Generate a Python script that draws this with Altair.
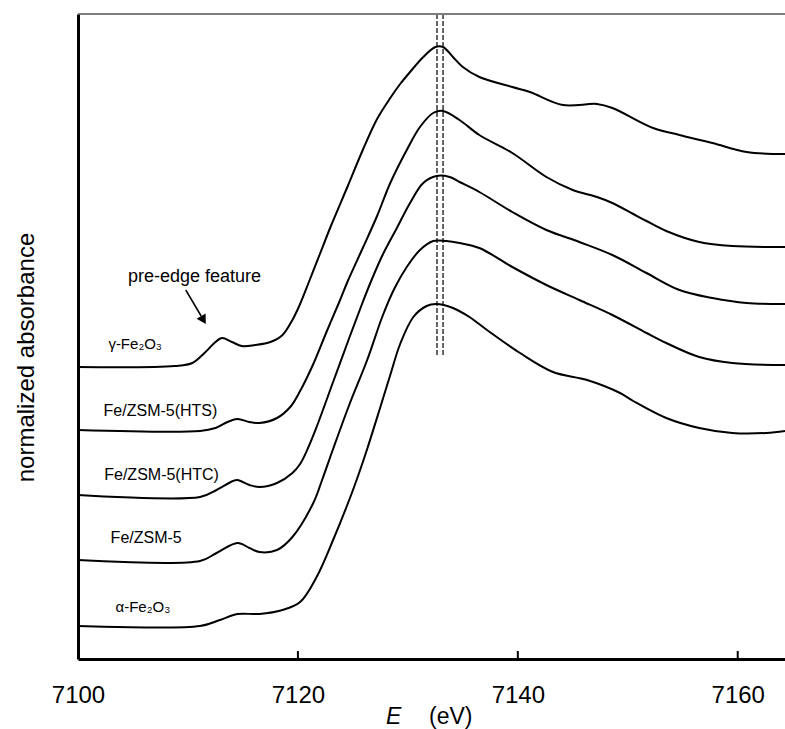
import altair as alt
import pandas as pd

# ---- data (E in eV, stacked normalized absorbance) ----
series_names = ["γ-Fe₂O₃", "Fe/ZSM-5(HTS)", "Fe/ZSM-5(HTC)", "Fe/ZSM-5", "α-Fe₂O₃"]

energy_gamma = [7100.0, 7108.8, 7110.4, 7111.5, 7112.5, 7113.1, 7114.0, 7114.9, 7116.1, 7117.5,
                7118.6, 7119.5, 7120.2, 7121.0, 7122.0, 7123.0, 7124.5, 7125.9, 7127.2, 7128.4,
                7129.3, 7130.2, 7131.4, 7132.5, 7133.2, 7134.1, 7135.0, 7136.5, 7139.5, 7141.1,
                7144.1, 7147.2, 7148.6, 7152.3, 7154.7, 7157.7, 7160.8, 7164.3]
absorb_gamma = [2.92, 2.93, 2.96, 3.06, 3.17, 3.21, 3.17, 3.13, 3.14, 3.17,
                3.24, 3.39, 3.55, 3.77, 4.05, 4.33, 4.72, 5.09, 5.40, 5.61,
                5.75, 5.87, 6.02, 6.12, 6.12, 6.02, 5.92, 5.82, 5.72, 5.67,
                5.54, 5.55, 5.51, 5.31, 5.24, 5.16, 5.07, 5.05]

energy_hts = [7100.0, 7111.1, 7112.5, 7113.6, 7114.5, 7115.6, 7116.5, 7118.1, 7119.3, 7120.2,
              7121.4, 7122.6, 7123.8, 7124.5, 7125.9, 7127.2, 7128.4, 7129.9, 7131.1, 7132.3,
              7133.2, 7134.7, 7136.5, 7139.5, 7142.6, 7145.0, 7147.2, 7148.6, 7150.5, 7151.7,
              7153.5, 7156.5, 7159.5, 7164.3]
absorb_hts = [2.29, 2.28, 2.31, 2.37, 2.40, 2.37, 2.36, 2.41, 2.52, 2.68,
              2.95, 3.27, 3.58, 3.77, 4.11, 4.43, 4.76, 5.09, 5.32, 5.46,
              5.48, 5.39, 5.24, 5.06, 4.82, 4.69, 4.62, 4.56, 4.45, 4.38,
              4.28, 4.17, 4.13, 4.12]

energy_htc = [7100.0, 7111.1, 7112.6, 7114.1, 7114.5, 7115.6, 7116.5, 7118.1, 7119.5, 7120.2,
              7121.0, 7121.7, 7123.2, 7124.7, 7125.9, 7126.7, 7127.7, 7129.0, 7130.2, 7131.4,
              7132.6, 7133.8, 7134.7, 7136.5, 7139.5, 7142.6, 7145.6, 7148.6, 7151.7, 7154.7,
              7157.7, 7160.8, 7164.3]
absorb_htc = [1.64, 1.62, 1.69, 1.78, 1.79, 1.74, 1.72, 1.76, 1.86, 1.95,
              2.13, 2.32, 2.77, 3.22, 3.57, 3.79, 4.04, 4.31, 4.56, 4.76,
              4.83, 4.82, 4.77, 4.67, 4.47, 4.29, 4.17, 4.04, 3.86, 3.69,
              3.61, 3.56, 3.55]

energy_zsm = [7100.0, 7111.1, 7112.6, 7114.5, 7115.6, 7116.5, 7118.1, 7119.5, 7121.4, 7122.2,
              7123.2, 7124.7, 7126.3, 7127.7, 7128.8, 7129.9, 7131.1, 7132.3, 7133.5, 7134.7,
              7136.5, 7139.5, 7142.6, 7145.6, 7148.6, 7151.7, 7153.5, 7156.5, 7159.5, 7164.3]
absorb_zsm = [0.99, 0.98, 1.06, 1.16, 1.11, 1.07, 1.09, 1.22, 1.56, 1.79,
              2.10, 2.55, 2.99, 3.43, 3.71, 3.92, 4.09, 4.18, 4.18, 4.16,
              4.11, 3.92, 3.74, 3.59, 3.44, 3.26, 3.16, 3.02, 2.96, 2.94]

energy_alpha = [7100.0, 7111.1, 7112.9, 7114.5, 7116.5, 7118.6, 7120.2, 7121.7, 7123.2, 7124.7,
                7125.5, 7126.3, 7127.5, 7128.4, 7129.3, 7130.5, 7131.7, 7132.6, 7134.1, 7135.6,
                7137.2, 7140.2, 7143.2, 7146.3, 7149.3, 7150.5, 7153.5, 7156.5, 7159.5, 7162.6,
                7164.3]
absorb_alpha = [0.33, 0.33, 0.39, 0.45, 0.45, 0.49, 0.57, 0.82, 1.19, 1.60,
                1.84, 2.10, 2.52, 2.84, 3.15, 3.42, 3.53, 3.55, 3.51, 3.42,
                3.29, 3.06, 2.87, 2.79, 2.66, 2.58, 2.41, 2.31, 2.26, 2.26,
                2.28]

# curve labels: text, centre energy, baseline absorbance, font size
label_texts = ["γ-Fe₂O₃", "Fe/ZSM-5(HTS)", "Fe/ZSM-5(HTC)", "Fe/ZSM-5", "α-Fe₂O₃", "pre-edge feature"]
label_energy = [7105.2, 7107.5, 7107.6, 7106.2, 7105.9, 7110.6]
label_absorb = [3.10, 2.43, 1.79, 1.16, 0.47, 3.77]
label_size = [15, 16, 16, 16, 15, 18]

# dashed guide lines and their span
dash_energy = [7132.65, 7133.2]
dash_low, dash_high = 3.04, 6.44

tick_values = [7100, 7120, 7140, 7160]
x_domain = [7100, 7164.3]
y_domain = [0, 6.45]

arrow_from = (7109.8, 3.69)
arrow_to = (7111.2, 3.43)
arrow_head = (7111.41, 3.39)

FONT = "Liberation Sans"

# ---- build tables ----
rows = []
for name, es, ab in zip(series_names,
                        [energy_gamma, energy_hts, energy_htc, energy_zsm, energy_alpha],
                        [absorb_gamma, absorb_hts, absorb_htc, absorb_zsm, absorb_alpha]):
    for i, (e, a) in enumerate(zip(es, ab)):
        rows.append({"sample": name, "E": e, "A": a, "i": i})
curves = pd.DataFrame(rows)

xs = alt.Scale(domain=x_domain, nice=False, zero=False)
ys = alt.Scale(domain=y_domain, nice=False, zero=False)

x_axis = alt.Axis(
    values=tick_values, format="d", ticks=False, grid=False, title=None,
    domainColor="black", domainWidth=3,
    labelFont=FONT, labelFontSize=24, labelColor="black",
    labelPadding=43, labelBaseline="alphabetic",
    labelFlush=False, labelOverlap=False)
y_axis = alt.Axis(
    labels=False, ticks=False, grid=False,
    domainColor="black", domainWidth=3,
    title="normalized absorbance", titleFont=FONT, titleFontSize=24,
    titleFontWeight="normal", titleColor="black", titleAngle=270,
    titleX=-45, titleY=343, titleAlign="center", titleBaseline="alphabetic")


def X(field):
    return alt.X(field, scale=xs, axis=x_axis)


def Y(field):
    return alt.Y(field, scale=ys, axis=y_axis)


lines = alt.Chart(curves).mark_line(
    color="black", strokeWidth=2, interpolate="catmull-rom", clip=True
).encode(x=X("E:Q"), y=Y("A:Q"), detail="sample:N", order="i:Q")

frame_df = pd.DataFrame({"E0": [x_domain[0]], "E1": [x_domain[1]], "A": [y_domain[1]]})
frame = alt.Chart(frame_df).mark_rule(color="#555555", strokeWidth=1.5).encode(
    x=X("E0:Q"), x2="E1:Q", y=Y("A:Q"))

dash_df = pd.DataFrame({"E": dash_energy, "A0": [dash_low] * 2, "A1": [dash_high] * 2})
dashes = alt.Chart(dash_df).mark_rule(color="black", strokeWidth=1.2, strokeDash=[5, 2]).encode(
    x=X("E:Q"), y=Y("A0:Q"), y2="A1:Q")

tick_df = pd.DataFrame({"E": tick_values[1:], "A0": [0.0] * 3, "A1": [0.08] * 3})
ticks = alt.Chart(tick_df).mark_rule(color="black", strokeWidth=2).encode(
    x=X("E:Q"), y=Y("A0:Q"), y2="A1:Q")

lab_df = pd.DataFrame({"t": label_texts, "E": label_energy, "A": label_absorb, "fs": label_size})
labels = alt.Chart(lab_df).mark_text(
    font=FONT, color="black", align="center", baseline="alphabetic"
).encode(
    x=X("E:Q"), y=Y("A:Q"), text="t:N",
    size=alt.Size("fs:Q", scale=None, legend=None))

arrow_df = pd.DataFrame({"E0": [arrow_from[0]], "A0": [arrow_from[1]],
                         "E1": [arrow_to[0]], "A1": [arrow_to[1]]})
arrow_line = alt.Chart(arrow_df).mark_rule(color="black", strokeWidth=1.5).encode(
    x=X("E0:Q"), x2="E1:Q", y=Y("A0:Q"), y2="A1:Q")

head_df = pd.DataFrame({"E": [arrow_head[0]], "A": [arrow_head[1]]})
arrow_head_mark = alt.Chart(head_df).mark_point(
    shape="triangle-down", filled=True, size=110, angle=329, color="black", opacity=1
).encode(x=X("E:Q"), y=Y("A:Q"))

xt_df = pd.DataFrame({"E": [7128.7], "A": [-0.645], "t": ["E"]})
xtitle_e = alt.Chart(xt_df).mark_text(
    font=FONT, fontSize=23, fontStyle="italic", color="black", align="center", baseline="alphabetic"
).encode(x=X("E:Q"), y=Y("A:Q"), text="t:N")

xu_df = pd.DataFrame({"E": [7133.9], "A": [-0.645], "t": ["(eV)"]})
xtitle_u = alt.Chart(xu_df).mark_text(
    font=FONT, fontSize=23, color="black", align="center", baseline="alphabetic"
).encode(x=X("E:Q"), y=Y("A:Q"), text="t:N")

chart = alt.layer(
    frame, dashes, ticks, lines, labels, arrow_line, arrow_head_mark, xtitle_e, xtitle_u
).properties(
    width=707, height=645,
    autosize=alt.AutoSizeParams(type="none"),
    padding={"left": 78, "top": 14, "right": 0, "bottom": 70},
    background="white",
).configure_view(stroke=None)

chart.save("out.html", embed_options={"renderer": "svg", "actions": False})
